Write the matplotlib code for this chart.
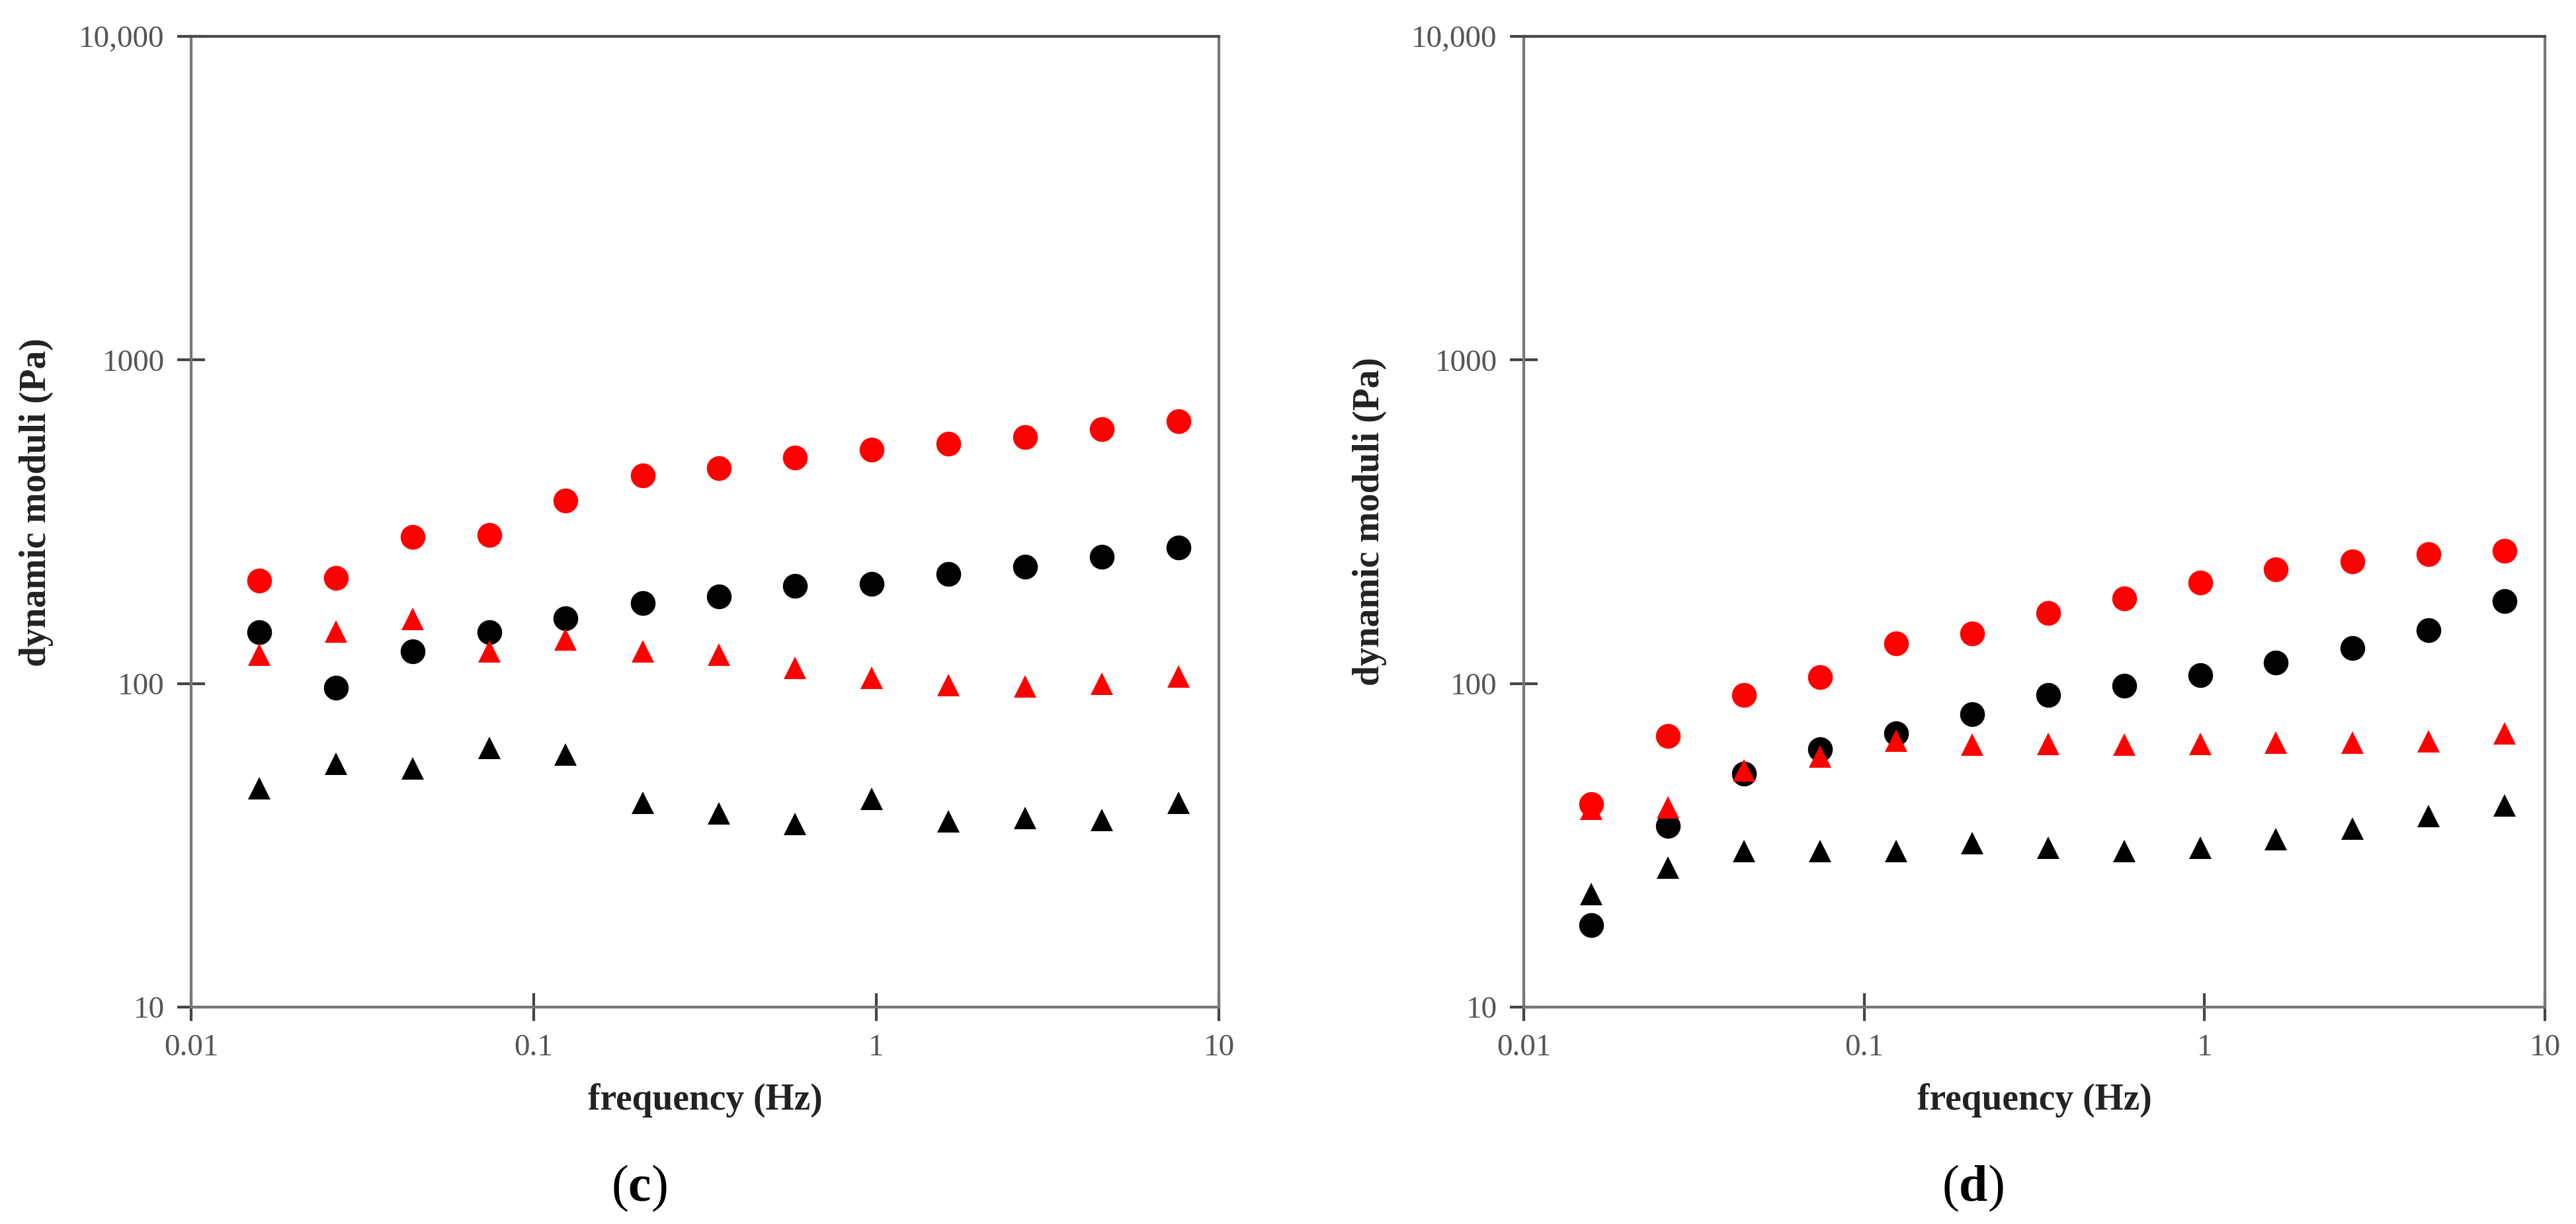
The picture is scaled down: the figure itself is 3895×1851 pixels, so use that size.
import matplotlib
matplotlib.use('Agg')
import matplotlib.pyplot as plt

# frequencies (Hz), shared by both panels
freq = [0.0158, 0.0265, 0.0443, 0.0741, 0.124, 0.208, 0.347, 0.58, 0.971, 1.62, 2.72, 4.55, 7.62]

# panel (c) - dynamic moduli (Pa)
c_black_circ = [144, 97, 126, 144, 159, 177, 186, 200, 203, 218, 230, 246, 263]
c_black_tri = [47.5, 56.4, 54.7, 63.4, 60.4, 42.9, 39.7, 36.8, 44.1, 37.6, 38.5, 37.8, 42.9]
c_red_circ = [208, 212, 284, 288, 367, 440, 462, 498, 528, 552, 578, 611, 647]
c_red_tri = [123, 145, 158, 126, 137, 126, 123, 112, 104, 99, 98, 100, 105]

# panel (d) - dynamic moduli (Pa)
d_black_circ = [17.9, 36.3, 52.6, 62.8, 70, 80.4, 92, 98.6, 106, 116, 129, 146, 180]
d_black_tri = [22.4, 27, 30.4, 30.4, 30.4, 32.1, 31.1, 30.4, 31.1, 33, 35.7, 38.9, 42]
d_red_circ = [42.5, 68.7, 92, 104.5, 133, 143, 165, 183, 205, 225, 239, 251, 257]
d_red_tri = [41, 41.5, 54, 59.6, 66.7, 64.7, 65, 64.7, 65, 65.6, 65.6, 66.2, 70]

x_ticks = [0.01, 0.1, 1, 10]
x_tick_labels = ['0.01', '0.1', '1', '10']
y_ticks = [10, 100, 1000, 10000]
y_tick_labels = ['10', '100', '1000', '10,000']

plt.rcParams['font.family'] = ['Liberation Serif', 'DejaVu Serif']
plt.rcParams['mathtext.fontset'] = 'custom'
plt.rcParams['mathtext.rm'] = 'Liberation Serif'
plt.rcParams['mathtext.bf'] = 'Liberation Serif:bold'

W, H = 3895, 1851
fig = plt.figure(figsize=(W / 100, H / 100), dpi=100)


def draw_panel(rect, black_circ, black_tri, red_circ, red_tri, letter, ylab_y):
    ax = fig.add_axes(rect)
    ax.plot(freq, black_circ, 'o', color='black', ms=27, mew=0)
    ax.plot(freq, black_tri, '^', color='black', ms=25, mew=0)
    ax.plot(freq, red_circ, 'o', color='#ff0000', ms=27, mew=0)
    ax.plot(freq, red_tri, '^', color='#ff0000', ms=25, mew=0)

    ax.set_xscale('log')
    ax.set_yscale('log')
    ax.set_xlim(0.01, 10)
    ax.set_ylim(10, 10000)
    ax.set_xticks(x_ticks, x_tick_labels)
    ax.set_yticks(y_ticks, y_tick_labels)
    ax.minorticks_off()
    ax.tick_params(direction='inout', length=30, width=3, color='#444444',
                   labelsize=34, labelcolor='#555555', pad=14)

    for side in ['left', 'bottom', 'right']:
        ax.spines[side].set_color('#777777')
        ax.spines[side].set_linewidth(3)
    ax.spines['top'].set_color('#4a4a4a')
    ax.spines['top'].set_linewidth(3)

    ax.set_xlabel('frequency (Hz)', fontsize=40, fontweight='bold', color='#222222')
    ax.set_ylabel('dynamic moduli (Pa)', fontsize=40, fontweight='bold', color='#222222')
    ax.xaxis.set_label_coords(0.5, -0.078)
    ax.yaxis.set_label_coords(-0.134, ylab_y)
    return ax


ax_c = draw_panel([289 / W, 1 - 1523 / H, 1554 / W, 1468 / H],
                  c_black_circ, c_black_tri, c_red_circ, c_red_tri, 'c', 0.52)
ax_d = draw_panel([2304 / W, 1 - 1523 / H, 1544 / W, 1468 / H],
                  d_black_circ, d_black_tri, d_red_circ, d_red_tri, 'd', 0.50)

# panel letters
fig.text(966 / W, 1 - 1797 / H, r'$(\mathbf{c})$', fontsize=56, ha='center', va='center')
fig.text(2983 / W, 1 - 1797 / H, r'$(\mathbf{d})$', fontsize=56, ha='center', va='center')

fig.savefig('out.png', dpi=100)
